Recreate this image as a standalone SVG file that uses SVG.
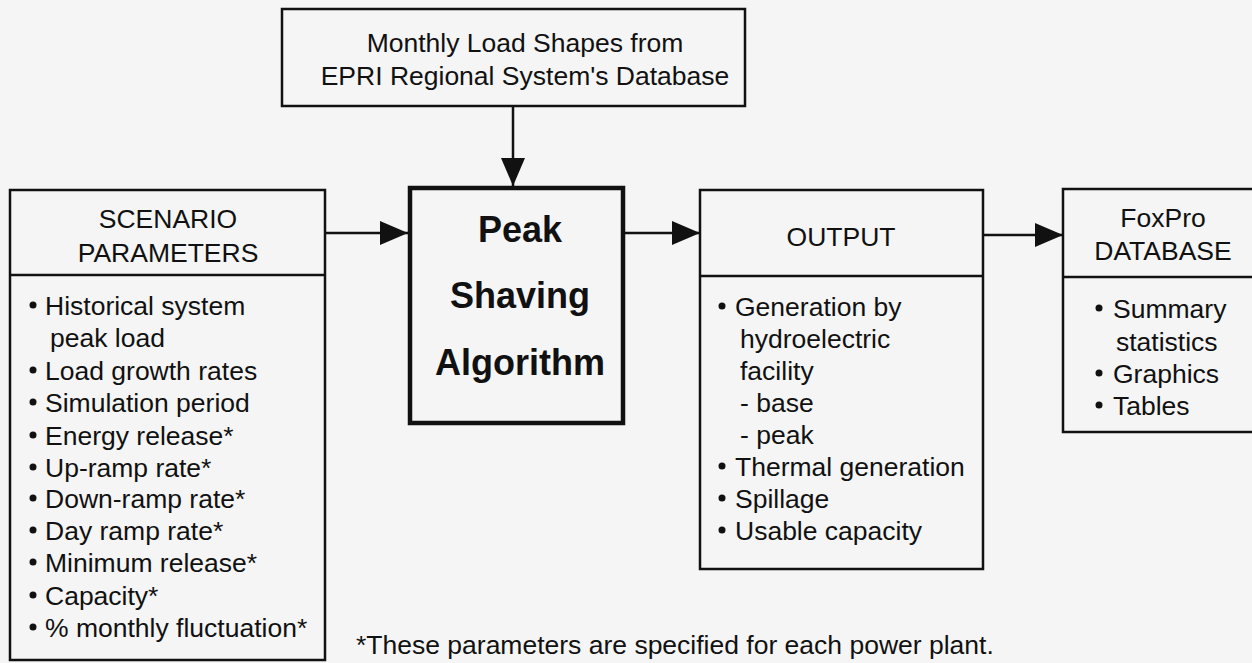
<svg xmlns="http://www.w3.org/2000/svg" width="1252" height="663" viewBox="0 0 1252 663">
  <style>
    .box { fill: none; stroke: #111; stroke-width: 2.5; }
    .thick { fill: none; stroke: #111; stroke-width: 4.5; }
    .div { stroke: #111; stroke-width: 2.5; }
    .t { font-family: "Liberation Sans", Arial, Helvetica, sans-serif; font-size: 26.5px; fill: #111; }
    .c { text-anchor: middle; }
    .b { font-family: "Liberation Sans", Arial, Helvetica, sans-serif; font-size: 36px; font-weight: bold; fill: #111; text-anchor: middle; }
    .dot { fill: #111; }
    .conn { stroke: #111; stroke-width: 2.5; fill: none; }
  </style>
  <defs>
    <marker id="ah" viewBox="0 0 28 24" refX="28" refY="12" markerWidth="28" markerHeight="24" markerUnits="userSpaceOnUse" orient="auto">
      <path d="M0,0 L28,12 L0,24 Z" fill="#111"/>
    </marker>
  </defs>
  <rect width="1252" height="663" fill="#f5f5f5"/>

  <g id="connectors">
    <line class="conn" x1="513" y1="106" x2="513" y2="186" marker-end="url(#ah)"/>
    <line class="conn" x1="325" y1="233" x2="408" y2="233" marker-end="url(#ah)"/>
    <line class="conn" x1="623" y1="233" x2="700" y2="233" marker-end="url(#ah)"/>
    <line class="conn" x1="983" y1="235" x2="1063" y2="235" marker-end="url(#ah)"/>
  </g>

  <g id="load-shapes">
    <rect class="box" x="282" y="9" width="463" height="97"/>
    <text class="t c" x="525" y="52">Monthly Load Shapes from</text>
    <text class="t c" x="525" y="85">EPRI Regional System's Database</text>
  </g>

  <g id="peak-shaving">
    <rect class="thick" x="410" y="188" width="213" height="235"/>
    <text class="b" x="520" y="242">Peak</text>
    <text class="b" x="520" y="308">Shaving</text>
    <text class="b" x="520" y="375">Algorithm</text>
  </g>

  <g id="scenario">
    <rect class="box" x="10" y="190" width="315" height="470"/>
    <line class="div" x1="10" y1="275" x2="325" y2="275"/>
    <text class="t c" x="168" y="228">SCENARIO</text>
    <text class="t c" x="168" y="262">PARAMETERS</text>
    <circle class="dot" cx="33" cy="305" r="3.5"/><text class="t" x="45" y="315">Historical system</text>
    <text class="t" x="50" y="347">peak load</text>
    <circle class="dot" cx="33" cy="370" r="3.5"/><text class="t" x="45" y="380">Load growth rates</text>
    <circle class="dot" cx="33" cy="402" r="3.5"/><text class="t" x="45" y="412">Simulation period</text>
    <circle class="dot" cx="33" cy="435" r="3.5"/><text class="t" x="45" y="445">Energy release*</text>
    <circle class="dot" cx="33" cy="467" r="3.5"/><text class="t" x="45" y="477">Up-ramp rate*</text>
    <circle class="dot" cx="33" cy="498" r="3.5"/><text class="t" x="45" y="508">Down-ramp rate*</text>
    <circle class="dot" cx="33" cy="530" r="3.5"/><text class="t" x="45" y="540">Day ramp rate*</text>
    <circle class="dot" cx="33" cy="562" r="3.5"/><text class="t" x="45" y="572">Minimum release*</text>
    <circle class="dot" cx="33" cy="595" r="3.5"/><text class="t" x="45" y="605">Capacity*</text>
    <circle class="dot" cx="33" cy="627" r="3.5"/><text class="t" x="45" y="637">% monthly fluctuation*</text>
  </g>

  <g id="output">
    <rect class="box" x="700" y="190" width="283" height="379"/>
    <line class="div" x1="700" y1="276" x2="983" y2="276"/>
    <text class="t c" x="841" y="246">OUTPUT</text>
    <circle class="dot" cx="722" cy="306" r="3.5"/><text class="t" x="735" y="316">Generation by</text>
    <text class="t" x="740" y="348">hydroelectric</text>
    <text class="t" x="740" y="380">facility</text>
    <text class="t" x="740" y="412">- base</text>
    <text class="t" x="740" y="444">- peak</text>
    <circle class="dot" cx="722" cy="466" r="3.5"/><text class="t" x="735" y="476">Thermal generation</text>
    <circle class="dot" cx="722" cy="498" r="3.5"/><text class="t" x="735" y="508">Spillage</text>
    <circle class="dot" cx="722" cy="530" r="3.5"/><text class="t" x="735" y="540">Usable capacity</text>
  </g>

  <g id="foxpro">
    <rect class="box" x="1063" y="189" width="192" height="243"/>
    <line class="div" x1="1063" y1="277" x2="1255" y2="277"/>
    <text class="t c" x="1163" y="227">FoxPro</text>
    <text class="t c" x="1163" y="260">DATABASE</text>
    <circle class="dot" cx="1099" cy="308" r="3.5"/><text class="t" x="1113" y="318">Summary</text>
    <text class="t" x="1116" y="351">statistics</text>
    <circle class="dot" cx="1099" cy="373" r="3.5"/><text class="t" x="1113" y="383">Graphics</text>
    <circle class="dot" cx="1099" cy="405" r="3.5"/><text class="t" x="1113" y="415">Tables</text>
  </g>

  <g id="footnote">
    <text class="t" x="356" y="654">*These parameters are specified for each power plant.</text>
  </g>
</svg>
